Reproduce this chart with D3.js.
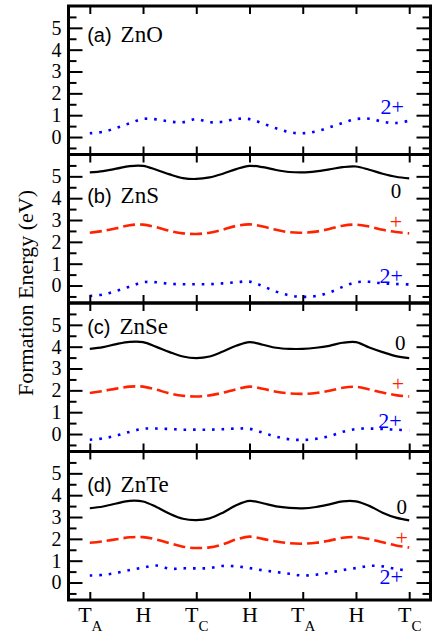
<!DOCTYPE html>
<html>
<head>
<meta charset="utf-8">
<script src="https://cdn.jsdelivr.net/npm/d3@7"></script>
<style>
body { margin: 0; background: #fff; }
</style>
</head>
<body>
<svg id="chart" width="433" height="637"></svg>
<script>
var width = 433;
var height = 637;

// k-path: T_A - H - T_C - H - T_A - H - T_C
var kMain = ["T", "H", "T", "H", "T", "H", "T"];
var kSub = ["A", "", "C", "", "A", "", "C"];
var kPos = [0, 1, 2, 3, 4, 5, 6];

var pathPos = [0, 0.25, 0.5, 0.75, 1, 1.25, 1.5, 1.75, 2, 2.25, 2.5, 2.75, 3,
               3.25, 3.5, 3.75, 4, 4.25, 4.5, 4.75, 5, 5.25, 5.5, 5.75, 6];

var panelTags = ["(a)", "(b)", "(c)", "(d)"];
var compounds = ["ZnO", "ZnS", "ZnSe", "ZnTe"];
var chargeNames = ["0", "+", "2+"];

// formation energies (eV)
var znoQ2 = [0.17, 0.24, 0.42, 0.63, 0.83, 0.81, 0.71, 0.68, 0.82, 0.68, 0.70, 0.83, 0.82,
             0.62, 0.40, 0.22, 0.17, 0.26, 0.44, 0.64, 0.82, 0.84, 0.70, 0.64, 0.75];

var znsQ0 = [5.18, 5.24, 5.35, 5.47, 5.48, 5.30, 5.09, 4.92, 4.88, 4.95, 5.12, 5.33, 5.48,
             5.42, 5.29, 5.20, 5.18, 5.23, 5.32, 5.42, 5.45, 5.30, 5.12, 4.98, 4.91];
var znsQ1 = [2.42, 2.50, 2.62, 2.76, 2.79, 2.67, 2.50, 2.39, 2.36, 2.42, 2.56, 2.73, 2.80,
             2.70, 2.55, 2.44, 2.42, 2.47, 2.59, 2.74, 2.79, 2.70, 2.55, 2.45, 2.39];
var znsQ2 = [-0.48, -0.41, -0.24, -0.05, 0.15, 0.15, 0.08, 0.06, 0.06, 0.06, 0.10, 0.15, 0.18,
             -0.03, -0.28, -0.45, -0.52, -0.48, -0.32, -0.06, 0.15, 0.17, 0.10, 0.07, 0.05];

var znseQ0 = [3.90, 3.98, 4.12, 4.22, 4.21, 3.99, 3.75, 3.55, 3.48, 3.55, 3.78, 4.04, 4.21,
              4.09, 3.95, 3.90, 3.90, 3.95, 4.04, 4.18, 4.21, 3.96, 3.75, 3.57, 3.48];
var znseQ1 = [1.88, 1.97, 2.08, 2.17, 2.17, 2.03, 1.86, 1.75, 1.72, 1.77, 1.89, 2.05, 2.17,
              2.07, 1.94, 1.86, 1.84, 1.88, 1.98, 2.12, 2.16, 2.04, 1.90, 1.78, 1.72];
var znseQ2 = [-0.26, -0.20, -0.07, 0.10, 0.24, 0.25, 0.23, 0.20, 0.20, 0.20, 0.22, 0.25, 0.24,
              0.06, -0.12, -0.24, -0.27, -0.22, -0.10, 0.10, 0.23, 0.25, 0.23, 0.20, 0.17];

var znteQ0 = [3.40, 3.48, 3.62, 3.74, 3.71, 3.46, 3.15, 2.92, 2.86, 2.94, 3.20, 3.54, 3.74,
              3.63, 3.49, 3.42, 3.40, 3.46, 3.58, 3.72, 3.72, 3.51, 3.20, 2.97, 2.85];
var znteQ1 = [1.82, 1.89, 1.98, 2.07, 2.08, 1.97, 1.80, 1.64, 1.58, 1.61, 1.75, 1.97, 2.10,
              2.00, 1.88, 1.80, 1.78, 1.82, 1.92, 2.05, 2.08, 1.99, 1.84, 1.70, 1.60];
var znteQ2 = [0.32, 0.35, 0.44, 0.57, 0.68, 0.78, 0.63, 0.65, 0.65, 0.66, 0.76, 0.74, 0.66,
              0.56, 0.48, 0.40, 0.32, 0.36, 0.45, 0.57, 0.66, 0.76, 0.74, 0.62, 0.55];

// which series sit in which panel (null = not shown)
var panelSeries = [
  [null, null, znoQ2],
  [znsQ0, znsQ1, znsQ2],
  [znseQ0, znseQ1, znseQ2],
  [znteQ0, znteQ1, znteQ2]
];

var yMajor = [0, 1, 2, 3, 4, 5];
var yMinor = [-0.5, 0.5, 1.5, 2.5, 3.5, 4.5, 5.5];

// ---- layout ----
var left = 68.5, right = 430.5;
var top0 = 6, panelH = 148.5;
var colors = ["#000000", "#ff2200", "#0000ff"];
var dashes = [null, "12,5", "2.6,6.9"];
var widths = [2.2, 2.6, 2.6];
var serif = "'Liberation Serif', 'Times New Roman', serif";
var sans = "'Liberation Sans', Arial, sans-serif";

// label spots, in data units of each panel
var tagY = [4.35, 3.78, 4.58, 4.15];
var chargeLab = [
  [null, null, [5.68, 1.04]],
  [[5.75, 4.0], [5.75, 2.61], [5.66, 0.12]],
  [[5.83, 3.85], [5.79, 1.95], [5.64, 0.28]],
  [[5.86, 3.14], [5.86, 1.70], [5.66, -0.07]]
];

var svg = d3.select("#chart");

var x = d3.scaleLinear().domain([-0.4, 6.4]).range([left, right]);

panelSeries.forEach(function (series, p) {
  var pt = top0 + p * panelH;
  var y = d3.scaleLinear().domain([-0.8, 6]).range([pt + panelH, pt]);
  var g = svg.append("g");

  // curves
  series.forEach(function (vals, c) {
    if (!vals) return;
    var line = d3.line()
      .x(function (d, i) { return x(pathPos[i]); })
      .y(function (d) { return y(d); })
      .curve(d3.curveCatmullRom);
    g.append("path")
      .datum(vals)
      .attr("d", line)
      .attr("fill", "none")
      .attr("stroke", colors[c])
      .attr("stroke-width", widths[c])
      .attr("stroke-dasharray", dashes[c]);
  });

  // y ticks, left and right, pointing inward
  g.append("g").attr("transform", "translate(" + left + ",0)")
    .call(d3.axisLeft(y).tickValues(yMajor).tickSize(-14).tickPadding(7).tickFormat(d3.format("d")));
  g.append("g").attr("transform", "translate(" + left + ",0)")
    .call(d3.axisLeft(y).tickValues(yMinor).tickSize(-8).tickFormat(""));
  g.append("g").attr("transform", "translate(" + right + ",0)")
    .call(d3.axisRight(y).tickValues(yMajor).tickSize(-14).tickFormat(""));
  g.append("g").attr("transform", "translate(" + right + ",0)")
    .call(d3.axisRight(y).tickValues(yMinor).tickSize(-8).tickFormat(""));

  // x ticks, top and bottom
  g.append("g").attr("transform", "translate(0," + pt + ")")
    .call(d3.axisTop(x).tickValues(kPos).tickSize(-8).tickFormat(""));
  var xb = g.append("g").attr("transform", "translate(0," + (pt + panelH) + ")")
    .call(d3.axisBottom(x).tickValues(kPos).tickSize(-8).tickFormat(""));

  g.selectAll("g").attr("font-family", null);
  g.selectAll(".tick text").style("font-size", "20px");

  if (p == panelSeries.length - 1) {
    var lab = xb.selectAll(".tick").append("text")
      .attr("y", 22)
      .attr("fill", "#000")
      .attr("text-anchor", "middle")
      .style("font-size", "22px");
    lab.append("tspan").text(function (d, i) { return kMain[i]; });
    lab.append("tspan")
      .attr("dy", 9)
      .style("font-size", "15px")
      .text(function (d, i) { return kSub[i]; });
  }

  g.selectAll(".domain").remove();
  g.selectAll(".tick line").attr("stroke", "#000").attr("stroke-width", 2);

  // frame
  g.append("rect")
    .attr("x", left).attr("y", pt)
    .attr("width", right - left).attr("height", panelH)
    .attr("fill", "none").attr("stroke", "#000").attr("stroke-width", 3);

  // panel tag
  var t = g.append("text")
    .attr("x", x(-0.05)).attr("y", y(tagY[p]))
    .style("font-size", "23px");
  t.append("tspan").attr("class", "sans").style("font-size", "20px").text(panelTags[p]);
  t.append("tspan").attr("dx", 9).text(compounds[p]);

  // charge labels
  chargeLab[p].forEach(function (pos, c) {
    if (!pos) return;
    g.append("text")
      .attr("x", x(pos[0])).attr("y", y(pos[1]))
      .attr("text-anchor", "middle")
      .attr("fill", colors[c])
      .style("font-size", c == 0 ? "21px" : "22px")
      .text(chargeNames[c]);
  });
});

svg.append("text")
  .attr("transform", "translate(33," + 293 + ") rotate(-90)")
  .attr("text-anchor", "middle")
  .style("font-size", "22px")
  .text("Formation Energy (eV)");

svg.selectAll("text").style("font-family", serif);
svg.selectAll("tspan.sans").style("font-family", sans);
</script>
</body>
</html>
